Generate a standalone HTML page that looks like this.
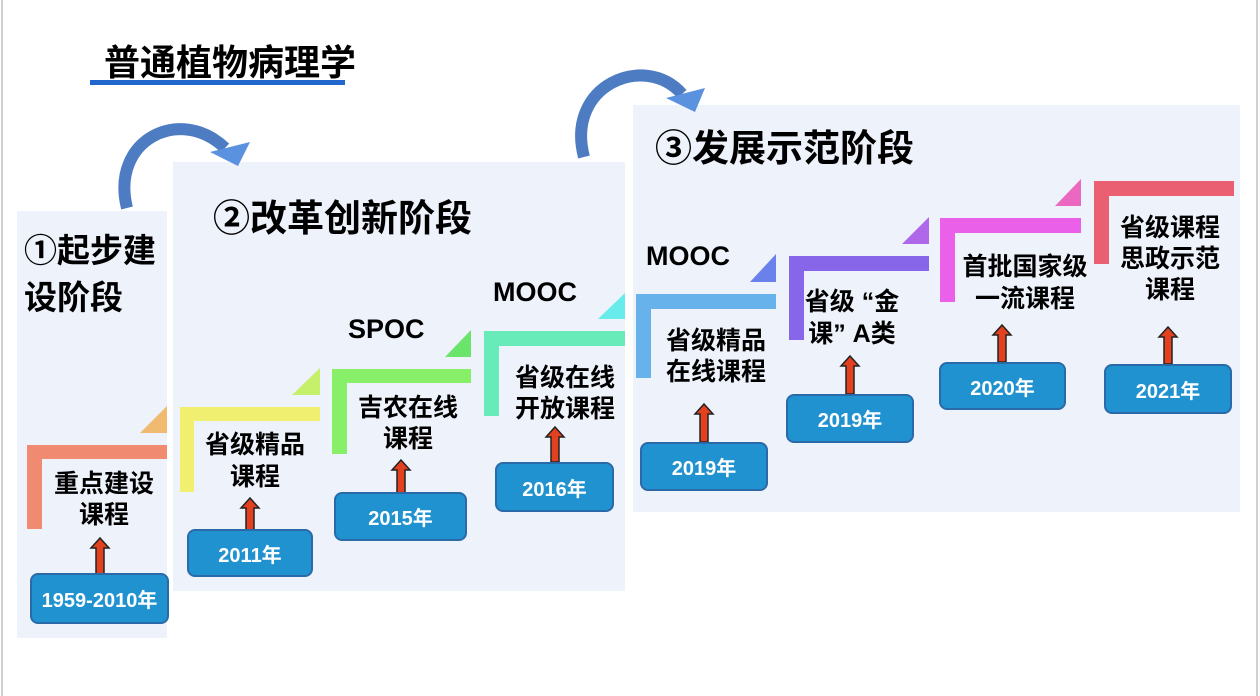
<!DOCTYPE html>
<html><head><meta charset="utf-8"><style>
body{margin:0;width:1260px;height:696px;background:#fff;position:relative;overflow:hidden;font-family:"Liberation Sans","Noto Sans CJK SC",sans-serif;}
.a{position:absolute}
.p{position:absolute;background:#eef2fb}
.t{position:absolute;font-weight:bold;color:#000;text-align:center;white-space:nowrap}
.box{position:absolute;background:#2192d0;border:2px solid #2a6aa8;border-radius:8px;color:#fff;font-weight:bold;font-size:20px;display:flex;align-items:center;justify-content:center;box-sizing:border-box}
</style></head><body>
<div class="a" style="left:1px;top:0;width:2px;height:696px;background:#d0d0d0"></div>
<div class="a" style="left:1256px;top:0;width:2px;height:696px;background:#d0d0d0"></div>
<div class="t" style="left:104px;top:34px;font-size:36px;">普通植物病理学</div>
<div class="a" style="left:90px;top:80px;width:255px;height:5px;background:#2166cc"></div>

<div class="p" style="left:17px;top:211px;width:150px;height:427px"></div>
<div class="p" style="left:173px;top:162px;width:452px;height:429px"></div>
<div class="p" style="left:633px;top:105px;width:607px;height:407px"></div>

<svg class="a" style="left:0;top:0" width="1260" height="696">
<g>
<rect x="27" y="445" width="140" height="14" fill="#f08a70"/><rect x="27" y="445" width="15" height="84" fill="#f08a70"/>
<polygon points="140,433 167,433 167,406" fill="#f0ba70"/>
<rect x="180" y="407" width="140" height="14" fill="#f0ef70"/><rect x="180" y="407" width="14" height="85" fill="#f0ef70"/>
<polygon points="292,395 320,395 320,368" fill="#c6ef6a"/>
<rect x="332" y="369" width="139" height="14" fill="#88ef68"/><rect x="332" y="369" width="15" height="85" fill="#88ef68"/>
<polygon points="445,357 471,357 471,330" fill="#6ae46a"/>
<rect x="484" y="331" width="141" height="15" fill="#68ebb8"/><rect x="484" y="331" width="15" height="85" fill="#68ebb8"/>
<polygon points="598,319 625,319 625,293" fill="#68ebeb"/>
<rect x="636" y="294" width="140" height="15" fill="#68b2eb"/><rect x="636" y="294" width="15" height="84" fill="#68b2eb"/>
<polygon points="750,282 776,282 776,254" fill="#6a80ea"/>
<rect x="789" y="256" width="140" height="15" fill="#8866ea"/><rect x="789" y="256" width="15" height="84" fill="#8866ea"/>
<polygon points="902,244 929,244 929,217" fill="#b068ea"/>
<rect x="940" y="218" width="141" height="15" fill="#ea60e8"/><rect x="940" y="218" width="15" height="84" fill="#ea60e8"/>
<polygon points="1055,206 1081,206 1081,179" fill="#ea68c0"/>
<rect x="1094" y="181" width="140" height="15" fill="#ea6072"/><rect x="1094" y="181" width="15" height="83" fill="#ea6072"/>
</g>
<g fill="#e2401e" stroke="#222" stroke-width="1.5">
<polygon points="96,575 96,548 91,548 100,538 109,548 104,548 104,575"/>
<polygon points="246,532 246,508 241,508 250,498 259,508 254,508 254,532"/>
<polygon points="397,493 397,470 392,470 401,460 410,470 405,470 405,493"/>
<polygon points="551,462 551,437 546,437 555,427 564,437 559,437 559,462"/>
<polygon points="700,442 700,414 695,414 704,404 713,414 708,414 708,442"/>
<polygon points="846,394 846,366 841,366 850,356 859,366 854,366 854,394"/>
<polygon points="998,362 998,335 993,335 1002,325 1011,335 1006,335 1006,362"/>
<polygon points="1164,364 1164,337 1159,337 1168,327 1177,337 1172,337 1172,364"/>
</g>
<g>
<path d="M127,208 C110,140 180,105 225,148" fill="none" stroke="#4d7cc2" stroke-width="12"/>
<polygon points="210,152 250,142 238,166" fill="#5a92e0"/>
<path d="M584,157 C565,85 645,52 682,94" fill="none" stroke="#4d7cc2" stroke-width="12"/>
<polygon points="666,98 705,88 695,112" fill="#5a92e0"/>
</g>
</svg>

<div class="t" style="left:24px;top:227px;font-size:33px;text-align:left;line-height:47px">①起步建<br>设阶段</div>
<div class="t" style="left:213px;top:188px;font-size:37px;">②改革创新阶段</div>
<div class="t" style="left:655px;top:118px;font-size:37px;">③发展示范阶段</div>

<div class="t" style="left:348px;top:314px;font-size:27px;">SPOC</div>
<div class="t" style="left:493px;top:277px;font-size:27px;">MOOC</div>
<div class="t" style="left:646px;top:241px;font-size:27px;">MOOC</div>

<div class="t" style="left:44px;top:469px;width:120px;font-size:25px;line-height:31px">重点建设<br>课程</div>
<div class="t" style="left:195px;top:429px;width:120px;font-size:25px;line-height:32px">省级精品<br>课程</div>
<div class="t" style="left:348px;top:393px;width:120px;font-size:25px;line-height:31px">吉农在线<br>课程</div>
<div class="t" style="left:505px;top:363px;width:120px;font-size:25px;line-height:31px">省级在线<br>开放课程</div>
<div class="t" style="left:656px;top:326px;width:120px;font-size:25px;line-height:31px">省级精品<br>在线课程</div>
<div class="t" style="left:792px;top:286px;width:120px;font-size:25px;line-height:32px">省级 “金<br>课” A类</div>
<div class="t" style="left:955px;top:251px;width:140px;font-size:25px;line-height:32px">首批国家级<br>一流课程</div>
<div class="t" style="left:1110px;top:213px;width:120px;font-size:25px;line-height:31px">省级课程<br>思政示范<br>课程</div>

<div class="box" style="left:30px;top:573px;width:139px;height:51px">1959-2010年</div>
<div class="box" style="left:187px;top:529px;width:126px;height:48px">2011年</div>
<div class="box" style="left:334px;top:492px;width:133px;height:49px">2015年</div>
<div class="box" style="left:495px;top:462px;width:119px;height:50px">2016年</div>
<div class="box" style="left:640px;top:442px;width:128px;height:49px">2019年</div>
<div class="box" style="left:786px;top:394px;width:128px;height:49px">2019年</div>
<div class="box" style="left:939px;top:362px;width:127px;height:48px">2020年</div>
<div class="box" style="left:1104px;top:364px;width:128px;height:50px">2021年</div>
</body></html>
